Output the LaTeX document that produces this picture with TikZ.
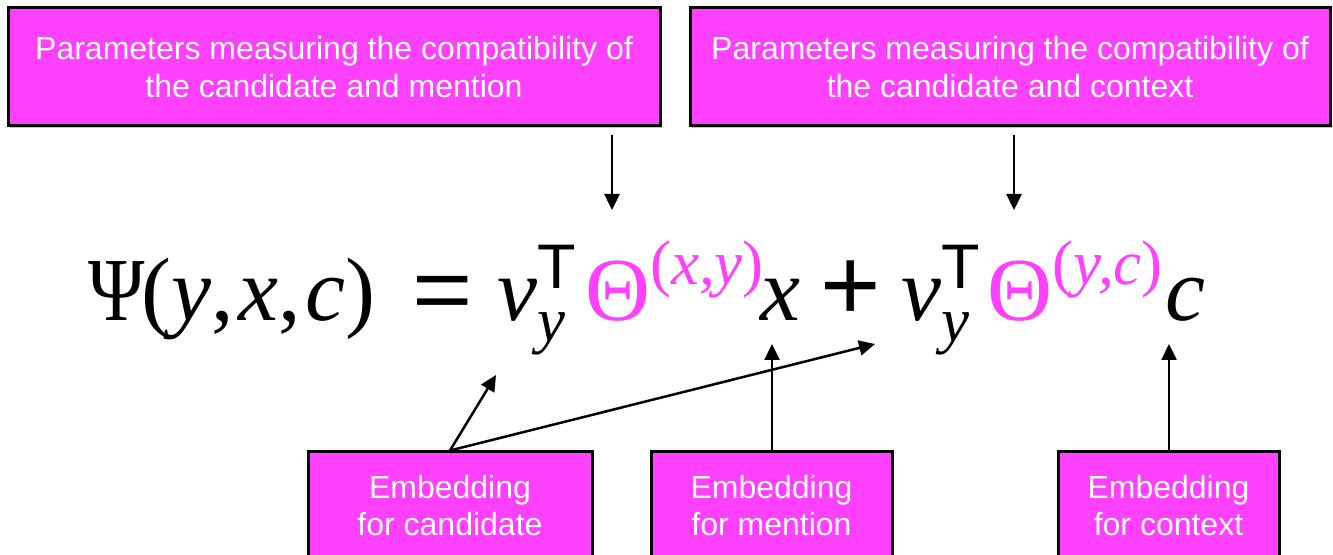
\documentclass[tikz,border=0pt]{standalone}
\usepackage{amsmath}
\usepackage{fontspec}
\setmainfont{Liberation Sans}
\newfontfamily\ser{Liberation Serif}
\newcommand\mi[1]{\text{\ser\itshape #1}}
\newcommand\subY{\text{\raisebox{-4pt}{\ser\itshape y}}}
\newcommand\supT{\text{\raisebox{5pt}{T}}}
\newcommand\supP[1]{\text{\raisebox{-2pt}{\ser(\itshape #1\upshape)}}}
\usetikzlibrary{arrows.meta,calc,shadows}
\definecolor{mag}{RGB}{255,64,255}
\tikzset{
  boxstyle/.style={draw=black, line width=1.5pt, fill=mag, text=white, align=center, inner sep=0pt,
    font=\fontsize{16pt}{18.6pt}\selectfont,
    drop shadow={shadow xshift=0.8pt, shadow yshift=-0.8pt, fill=black, opacity=0.25}},
  arr/.style={line width=1.25pt, -{Triangle[length=8pt,width=7.5pt]}},
}
\begin{document}
\begin{tikzpicture}[x=0.5pt,y=-0.5pt]
\useasboundingbox (0,0) rectangle (1333,555);
\fill[white] (0,0) rectangle (1333,555);
\clip (0,0) rectangle (1333,555);
% top boxes
\node[boxstyle, minimum width=326pt, minimum height=59pt] (tl) at (334,67)
  {Parameters measuring the compatibility of\\the candidate and mention};
\node[boxstyle, minimum width=320pt, minimum height=59pt] (tr) at (1010,67)
  {Parameters measuring the compatibility of\\the candidate and context};
% bottom boxes
\node[boxstyle, minimum width=142pt, minimum height=53.3pt] (b1) at (450,505.3)
  {Embedding\\for candidate};
\node[boxstyle, minimum width=120.5pt, minimum height=53.3pt] (b2) at (771.5,505.3)
  {Embedding\\for mention};
\node[boxstyle, minimum width=110.5pt, minimum height=53.3pt] (b3) at (1168.5,505.3)
  {Embedding\\for context};
% equation
\node[anchor=base west, inner sep=0pt] (eq) at (88,321)
  {\fontsize{45pt}{50pt}\selectfont
   $\text{\ser\scalebox{0.85}[1]{Ψ}\kern-1.5pt(\itshape y\upshape,\kern0.05em\itshape x\upshape,\kern0.05em\itshape c\upshape)}\kern11.5pt
   \mathrel{\text{\scalebox{1.15}[1]{=}}}\kern5.5pt
   \mi{v}_{\subY}^{\supT}\kern4pt{\color{mag}\text{\ser Θ}^{\supP{x,y}}}\kern-2pt\mi{x}\kern4.5pt
   \mathbin{\text{\scalebox{1.15}{+}}}\kern4.5pt
   \mi{v}_{\subY}^{\supT}\kern3.5pt{\color{mag}\text{\ser Θ}^{\supP{y,c}}}\kern1pt\mi{c}$};
% arrow targets
\coordinate (t1) at (612,210);
\coordinate (t2) at (1014,210);
\coordinate (vy1) at (496,375);
\coordinate (vy2) at (875,344);
\coordinate (xm) at (772,344);
\coordinate (cm) at (1169,344);
% arrows
\draw[arr] ($(tl.south -| t1)+(0,8)$) -- (t1);
\draw[arr] ($(tr.south -| t2)+(0,8)$) -- (t2);
\draw[arr] (b1.north) -- (vy1);
\draw[arr] (b1.north) -- (vy2);
\draw[arr] (b2.north -| xm) -- (xm);
\draw[arr] (b3.north -| cm) -- (cm);
\end{tikzpicture}
\end{document}
